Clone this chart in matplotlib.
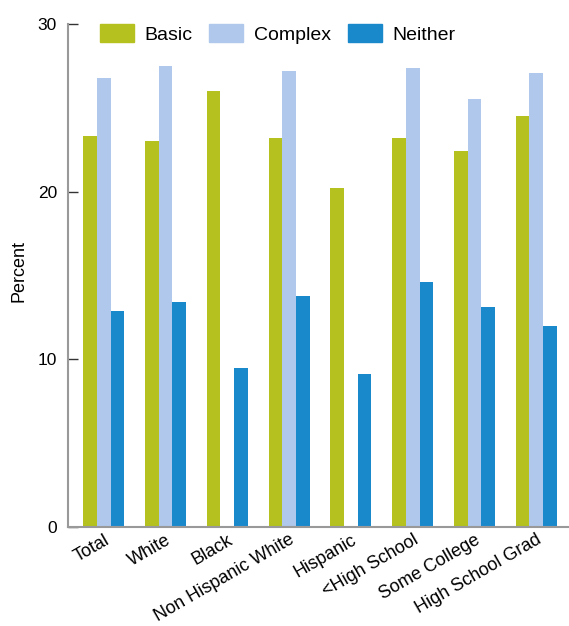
import numpy as np
import matplotlib
matplotlib.use('Agg')
import matplotlib.pyplot as plt
from matplotlib.patches import Patch

plt.rcParams['font.family'] = ['Liberation Sans', 'DejaVu Sans']

groups = ['Total', 'White', 'Black', 'Non Hispanic White', 'Hispanic',
          '<High School', 'Some College', 'High School Grad']
basic = [23.3, 23.0, 26.0, 23.2, 20.2, 23.2, 22.4, 24.5]
complex_ = [26.8, 27.5, np.nan, 27.2, np.nan, 27.4, 25.5, 27.1]
neither = [12.9, 13.4, 9.5, 13.8, 9.1, 14.6, 13.1, 12.0]

# colours
c_basic = '#b4c11e'
c_complex = '#b0c8ec'
c_neither = '#1a89cc'

fig = plt.figure(figsize=(5.69, 6.26), dpi=100)
ax = fig.add_axes([0.1195, 0.158, 0.8805, 0.8037])

x = np.arange(len(groups))
w = 0.222
ax.bar(x - w, basic, w, color=c_basic, linewidth=0)
ax.bar(x, complex_, w, color=c_complex, linewidth=0)
ax.bar(x + w, neither, w, color=c_neither, linewidth=0)

ax.set_xlim(-0.578, 7.53)
ax.set_ylim(0, 30)
ax.set_yticks([0, 10, 20, 30])
ax.tick_params(axis='y', direction='in', length=7, width=1, color='#333333',
               labelsize=12.5, pad=8)
ax.tick_params(axis='x', length=0, labelsize=13, pad=3)
ax.set_xticks(x)
ax.set_xticklabels(groups, rotation=30, ha='right', va='top', rotation_mode='anchor')

for s in ['top', 'right']:
    ax.spines[s].set_visible(False)
for s in ['left', 'bottom']:
    ax.spines[s].set_color('#999999')
    ax.spines[s].set_linewidth(1.5)

ax.set_ylabel('Percent', fontsize=13)
ax.yaxis.set_label_coords(-0.08, 0.51)

handles = [Patch(color=c_basic), Patch(color=c_complex), Patch(color=c_neither)]
fig.legend(handles, ['Basic', 'Complex', 'Neither'], ncol=3, frameon=False,
           loc='upper left', bbox_to_anchor=(0.176, 0.962), fontsize=14,
           handlelength=1.75, handleheight=1.1, handletextpad=0.55,
           columnspacing=0.85, borderpad=0, borderaxespad=0)

fig.savefig('out.png', dpi=100)
